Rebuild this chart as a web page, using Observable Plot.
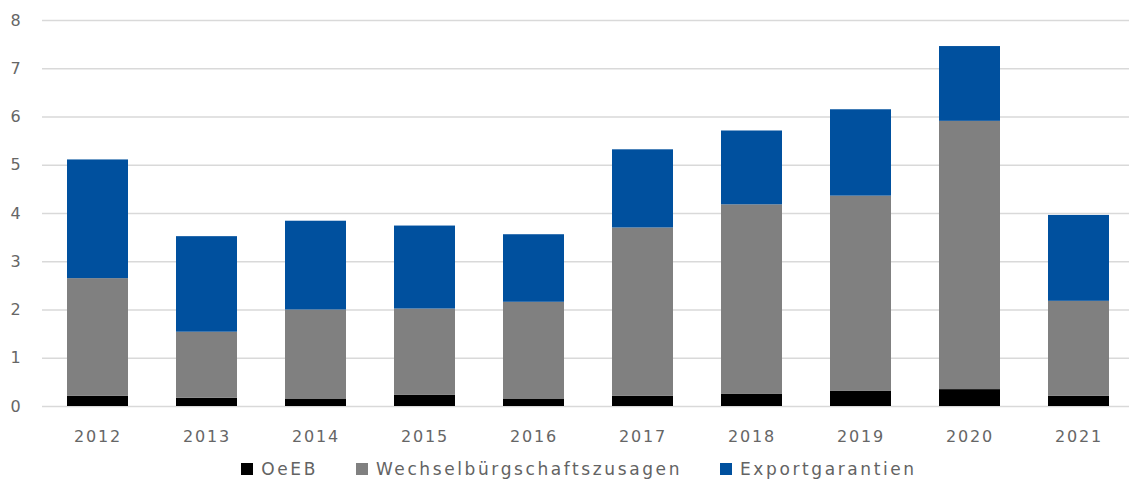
<!DOCTYPE html>
<html>
<head>
<meta charset="utf-8">
<script src="https://cdn.jsdelivr.net/npm/d3@7"></script>
<script src="https://cdn.jsdelivr.net/npm/@observablehq/plot@0.6"></script>
<style>
  html, body { margin: 0; padding: 0; background: #fff; overflow: hidden; }
  #chart svg text { letter-spacing: 1.8px; }
  .legend { display: flex; justify-content: center; align-items: center; height: 28px;
    padding-left: 29px; font-family: "DejaVu Sans", sans-serif; font-size: 17px; color: #636363; letter-spacing: 2.6px; }
  .legend .item { display: flex; align-items: center; margin: 0 19px; }
  .legend .sw { width: 12px; height: 12px; margin-right: 8px; display: inline-block; }
</style>
</head>
<body>
<div id="chart"></div>
<div class="legend" id="legend"></div>
<script>
const years = ["2012","2013","2014","2015","2016","2017","2018","2019","2020","2021"];
const oeeb = [0.21, 0.17, 0.145, 0.23, 0.145, 0.21, 0.25, 0.32, 0.35, 0.21];
const wechsel = [2.44, 1.37, 1.855, 1.79, 2.015, 3.49, 3.93, 4.04, 5.56, 1.97];
const exportg = [2.46, 1.98, 1.84, 1.72, 1.40, 1.62, 1.53, 1.79, 1.55, 1.78];
const seriesNames = ["OeEB", "Wechselbürgschaftszusagen", "Exportgarantien"];
const seriesColors = ["#000000", "#808080", "#00509E"];
const yTicks = [0, 1, 2, 3, 4, 5, 6, 7, 8];

const seriesValues = [oeeb, wechsel, exportg];
const data = years.flatMap((year, i) =>
  seriesNames.map((s, j) => ({ year, series: s, value: seriesValues[j][i] }))
);

const chart = Plot.plot({
  width: 1129,
  height: 455,
  marginLeft: 42,
  marginRight: -6,
  marginTop: 20,
  marginBottom: 49,
  style: { fontFamily: "DejaVu Sans, sans-serif", fontSize: "16px", color: "#666666", background: "#fff" },
  x: { type: "band", domain: years, paddingInner: 0.44, paddingOuter: 0.22, label: null },
  y: { domain: [0, 8], label: null },
  color: { domain: seriesNames, range: seriesColors },
  marks: [
    Plot.gridY(yTicks, { stroke: "#d9d9d9", strokeOpacity: 1, strokeWidth: 1.3 }),
    Plot.barY(data, { x: "year", y: "value", fill: "series" }),
    Plot.axisY(yTicks, { tickSize: 0, tickPadding: 20, label: null }),
    Plot.axisX({ tickSize: 0, tickPadding: 24, label: null })
  ]
});
document.getElementById("chart").appendChild(chart);

const legend = document.getElementById("legend");
seriesNames.forEach((s, i) => {
  const item = document.createElement("div");
  item.className = "item";
  const sw = document.createElement("span");
  sw.className = "sw";
  sw.style.background = seriesColors[i];
  const t = document.createElement("span");
  t.textContent = s;
  item.appendChild(sw);
  item.appendChild(t);
  legend.appendChild(item);
});
</script>
</body>
</html>
